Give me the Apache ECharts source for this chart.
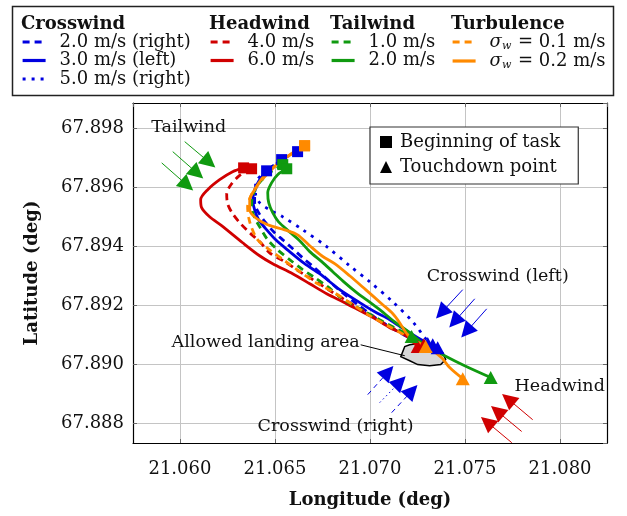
<!DOCTYPE html>
<html><head><meta charset="utf-8">
<script src="https://cdn.jsdelivr.net/npm/echarts@6/dist/echarts.min.js"></script>
<style>html,body{margin:0;padding:0;background:#fff}#c{width:627px;height:516px}</style>
</head><body><div id="c"></div>
<script>
// ---------- data (longitude / latitude, degrees) ----------
const cw2Lon = [21.06535,21.06472,21.06419,21.06393,21.06393,21.06414,21.06451,21.06493,21.06541,21.06588,21.06646,21.06709,21.06772,21.06841,21.06930,21.07035,21.07130,21.07209,21.07356];
const cw2Lat = [67.89693,67.89659,67.89618,67.89581,67.89547,67.89513,67.89479,67.89448,67.89421,67.89394,67.89360,67.89326,67.89289,67.89249,67.89204,67.89154,67.89116,67.89089,67.89055];
const cw3Lon = [21.06456,21.06419,21.06393,21.06383,21.06393,21.06414,21.06451,21.06504,21.06577,21.06656,21.06735,21.06841,21.06946,21.07025,21.07104,21.07183,21.07251,21.07304];
const cw3Lat = [67.89655,67.89625,67.89591,67.89557,67.89523,67.89489,67.89459,67.89421,67.89381,67.89340,67.89306,67.89252,67.89208,67.89177,67.89150,67.89116,67.89089,67.89069];
const cw5Lon = [21.06619,21.06551,21.06483,21.06430,21.06398,21.06398,21.06419,21.06472,21.06541,21.06646,21.06772,21.06893,21.06998,21.07119,21.07225,21.07298,21.07330];
const cw5Lat = [67.89720,67.89699,67.89669,67.89642,67.89611,67.89577,67.89547,67.89523,67.89499,67.89455,67.89398,67.89333,67.89279,67.89211,67.89143,67.89082,67.89065];
const hw4Lon = [21.06377,21.06319,21.06272,21.06246,21.06251,21.06277,21.06319,21.06367,21.06419,21.06472,21.06551,21.06630,21.06709,21.06788,21.06867,21.06946,21.07025,21.07104,21.07183,21.07283];
const hw4Lat = [67.89662,67.89642,67.89611,67.89577,67.89543,67.89510,67.89476,67.89445,67.89415,67.89377,67.89347,67.89313,67.89282,67.89249,67.89218,67.89187,67.89157,67.89126,67.89103,67.89065];
const hw6Lon = [21.06335,21.06277,21.06209,21.06146,21.06109,21.06114,21.06156,21.06219,21.06330,21.06419,21.06488,21.06593,21.06683,21.06772,21.06867,21.06946,21.07025,21.07104,21.07183,21.07251];
const hw6Lat = [67.89665,67.89652,67.89625,67.89591,67.89557,67.89530,67.89499,67.89469,67.89411,67.89367,67.89340,67.89306,67.89272,67.89238,67.89208,67.89181,67.89154,67.89123,67.89099,67.89059];
const tw1Lon = [21.06541,21.06472,21.06414,21.06383,21.06377,21.06393,21.06425,21.06462,21.06514,21.06577,21.06646,21.06709,21.06777,21.06841,21.06909,21.06983,21.07051,21.07130,21.07219];
const tw1Lat = [67.89676,67.89648,67.89611,67.89571,67.89533,67.89496,67.89459,67.89421,67.89387,67.89354,67.89320,67.89293,67.89262,67.89228,67.89201,67.89174,67.89150,67.89123,67.89093];
const tw2Lon = [21.06562,21.06514,21.06483,21.06462,21.06467,21.06488,21.06519,21.06577,21.06630,21.06683,21.06746,21.06804,21.06867,21.06930,21.06988,21.07051,21.07130,21.07209,21.07288,21.07393,21.07498,21.07635];
const tw2Lat = [67.89662,67.89642,67.89615,67.89581,67.89547,67.89513,67.89482,67.89448,67.89418,67.89381,67.89347,67.89313,67.89276,67.89242,67.89215,67.89184,67.89143,67.89106,67.89065,67.89028,67.88994,67.88954];
const tb1Lon = [21.06656,21.06588,21.06525,21.06472,21.06419,21.06377,21.06356,21.06362,21.06377,21.06409,21.06472,21.06551,21.06646,21.06725,21.06804,21.06893,21.06998,21.07104,21.07209,21.07293];
const tb1Lat = [67.89740,67.89713,67.89686,67.89652,67.89615,67.89574,67.89533,67.89496,67.89462,67.89421,67.89387,67.89350,67.89306,67.89272,67.89245,67.89208,67.89164,67.89126,67.89089,67.89059];
const tb2Lon = [21.06656,21.06609,21.06551,21.06483,21.06430,21.06393,21.06367,21.06367,21.06398,21.06462,21.06551,21.06619,21.06683,21.06746,21.06814,21.06893,21.06977,21.07067,21.07119,21.07156,21.07198,21.07251,21.07314,21.07377,21.07419,21.07488];
const tb2Lat = [67.89740,67.89723,67.89696,67.89662,67.89628,67.89591,67.89557,67.89523,67.89496,67.89472,67.89455,67.89438,67.89401,67.89367,67.89340,67.89299,67.89252,67.89201,67.89171,67.89140,67.89099,67.89072,67.89052,67.89021,67.88988,67.88950];
// allowed landing area polygon
const landLon = [21.07183,21.07162,21.07209,21.07251,21.07314,21.07372,21.07398,21.07383,21.07351,21.07277,21.07209];
const landLat = [67.89059,67.89025,67.89011,67.88998,67.88994,67.88998,67.89015,67.89038,67.89059,67.89072,67.89065];
// wind arrows: [fromLon, fromLat, toLon, toLat]
const tailArrows = [[21.06025,67.89754,21.06154,67.89684],[21.05962,67.89720,21.06091,67.89647],[21.05904,67.89682,21.06038,67.89606]];
const crossLeftArrows = [[21.07488,67.89252,21.07376,67.89174],[21.07551,67.89221,21.07445,67.89144],[21.07614,67.89187,21.07508,67.89110]];
const crossRightArrows = [[21.06988,67.88896,21.07095,67.88973],[21.07051,67.88869,21.07158,67.88939],[21.07114,67.88835,21.07221,67.88909]];
const headArrows = [[21.07856,67.88811,21.07727,67.88881],[21.07798,67.88771,21.07669,67.88840],[21.07746,67.88733,21.07616,67.88803]];
const leader = [21.06951,67.89065,21.07183,67.89028];
// annotation labels
const noteText = ['Tailwind','Crosswind (left)','Crosswind (right)','Headwind','Allowed landing area'];
const noteLon = [21.06046,21.07672,21.06819,21.07998,21.06451];
const noteLat = [67.89801,67.89296,67.88787,67.88923,67.89072];
// axes
const xMin = 21.05753, xMax = 21.08247, yMin = 67.88732, yMax = 67.89885;

const FONT = 'DejaVu Serif';
const BLUE = '#0000e0', RED = '#d00000', GREEN = '#109a10', ORANGE = '#ff8a00';
const DASH = [7, 5], DOT = [3, 6];

const lines = [
  {name:'2.0 m/s (right)', lon:cw2Lon, lat:cw2Lat, color:BLUE, type:DASH},
  {name:'3.0 m/s (left)',  lon:cw3Lon, lat:cw3Lat, color:BLUE, type:'solid'},
  {name:'5.0 m/s (right)', lon:cw5Lon, lat:cw5Lat, color:BLUE, type:DOT},
  {name:'4.0 m/s', lon:hw4Lon, lat:hw4Lat, color:RED, type:DASH},
  {name:'6.0 m/s', lon:hw6Lon, lat:hw6Lat, color:RED, type:'solid'},
  {name:'1.0 m/s', lon:tw1Lon, lat:tw1Lat, color:GREEN, type:DASH},
  {name:'2.0 m/s', lon:tw2Lon, lat:tw2Lat, color:GREEN, type:'solid'},
  {name:'σw = 0.1 m/s', lon:tb1Lon, lat:tb1Lat, color:ORANGE, type:DASH},
  {name:'σw = 0.2 m/s', lon:tb2Lon, lat:tb2Lat, color:ORANGE, type:'solid'}
];

const series = [];
series.push({
  name:'landing', type:'custom', z:1,
  data: landLon.map((x,i)=>[x, landLat[i]]),
  renderItem: function(params, api){
    if (params.dataIndex !== 0) return null;
    const pts = landLon.map((x,i)=>api.coord([x, landLat[i]]));
    return {type:'polygon', shape:{points:pts}, style:{fill:'#d8d8d8', stroke:'#000', lineWidth:1.5}};
  }
});
lines.forEach((l, k) => {
  series.push({
    name:l.name, type:'line', symbol:'none', smooth:0.3, z:2+k*0.01,
    data:l.lon.map((x,i)=>[x, l.lat[i]]),
    lineStyle:{color:l.color, width:2.8, type:l.type, cap:'butt', opacity:1},
    itemStyle:{color:l.color}
  });
});
series.push({
  name:'starts', type:'scatter', symbol:'rect', symbolSize:11, z:4,
  itemStyle:{opacity:1},
  data: lines.map(l=>({value:[l.lon[0], l.lat[0]], itemStyle:{color:l.color, opacity:1}}))
});
series.push({
  name:'ends', type:'scatter', symbol:'triangle', symbolSize:[14,13], z:4,
  itemStyle:{opacity:1},
  data: lines.map(l=>({value:[l.lon[l.lon.length-1], l.lat[l.lat.length-1]], itemStyle:{color:l.color, opacity:1}}))
});
function arrowData(arr, color, types){
  return arr.map((a,i)=>({coords:[[a[0],a[1]],[a[2],a[3]]], lineStyle:{color:color, width:1, opacity:1, type:types?types[i]:'solid'}}));
}
series.push({
  name:'arrows', type:'lines', coordinateSystem:'cartesian2d', z:3, silent:true,
  symbol:['none','triangle'], symbolSize:16,
  lineStyle:{opacity:1},
  data:[].concat(
    arrowData(tailArrows, GREEN),
    arrowData(crossLeftArrows, BLUE),
    arrowData(crossRightArrows, BLUE, [[5,4],[1.5,3],[5,4]]),
    arrowData(headArrows, RED))
});
series.push({
  name:'leader', type:'lines', coordinateSystem:'cartesian2d', z:3, silent:true,
  symbol:'none', lineStyle:{opacity:1},
  data:[{coords:[[leader[0],leader[1]],[leader[2],leader[3]]], lineStyle:{color:'#000', width:1, opacity:1}}]
});
series.push({
  name:'notes', type:'scatter', symbolSize:1, z:5, silent:true,
  itemStyle:{color:'rgba(0,0,0,0)', opacity:1},
  label:{show:true, position:'inside', formatter:'{b}', fontFamily:FONT, fontSize:17.5, color:'#111', opacity:1},
  data: noteText.map((t,i)=>({name:t, value:[noteLon[i], noteLat[i]]}))
});
series.push({name:'Beginning of task', type:'scatter', symbol:'rect', data:[], itemStyle:{color:'#000', opacity:1}});
series.push({name:'Touchdown point', type:'scatter', symbol:'triangle', data:[], itemStyle:{color:'#000', opacity:1}});

const legTxt = {fontFamily:FONT, fontSize:18, color:'#111', lineHeight:17, padding:[0,0,0,9],
  rich:{s:{fontFamily:FONT, fontSize:18, fontStyle:'italic', color:'#111'}, w:{fontFamily:FONT, fontSize:11, fontStyle:'italic', color:'#111', padding:[8,1,0,0]}}};
function legendCol(names, left){
  return {data:names, orient:'vertical', left:left, top:33, padding:0, itemGap:0.5,
    itemWidth:23, itemHeight:10, selectedMode:false, textStyle:legTxt,
    itemStyle:{color:'rgba(0,0,0,0)', borderWidth:0, opacity:0},
    lineStyle:{width:3.2},
    formatter: n => n.indexOf('σw')===0 ? '{s|σ}{w|w}' + n.slice(2) : n};
}
const gridC = '#c4c4c4';
function xAx(pos, show){
  return {type:'value', position:pos, min:xMin, max:xMax, splitNumber:5,
    axisLine:{show:true, onZero:false, lineStyle:{color:'#000', width:1.2}},
    axisTick:{show:true, inside:true, length:4, lineStyle:{color:'#666'}},
    splitLine:{show:show, lineStyle:{color:gridC, width:1}},
    axisLabel:{show:show, showMinLabel:false, showMaxLabel:false, margin:17, fontFamily:FONT, fontSize:18, color:'#111', formatter:v=>v.toFixed(3)},
    name: show ? 'Longitude (deg)' : '', nameLocation:'middle', nameGap:48,
    nameTextStyle:{fontFamily:FONT, fontSize:18, fontWeight:'bold', color:'#111'}};
}
function yAx(pos, show){
  return {type:'value', position:pos, min:yMin, max:yMax, splitNumber:5,
    axisLine:{show:true, onZero:false, lineStyle:{color:'#000', width:1.2}},
    axisTick:{show:true, inside:true, length:4, lineStyle:{color:'#666'}},
    splitLine:{show:show, lineStyle:{color:gridC, width:1}},
    axisLabel:{show:show, showMinLabel:false, showMaxLabel:false, margin:9, fontFamily:FONT, fontSize:18, color:'#111', formatter:v=>v.toFixed(3)},
    name: show ? 'Latitude (deg)' : '', nameLocation:'middle', nameGap:92,
    nameTextStyle:{fontFamily:FONT, fontSize:18, fontWeight:'bold', color:'#111'}};
}
const chart = echarts.init(document.getElementById('c'), null, {renderer:'canvas'});
chart.setOption({
  animation:false, backgroundColor:'#fff',
  grid:{left:133, right:20, top:103, bottom:73, containLabel:false},
  xAxis:[xAx('bottom', true), xAx('top', false)],
  yAxis:[yAx('left', true), yAx('right', false)],
  legend:[
    legendCol(['2.0 m/s (right)','3.0 m/s (left)','5.0 m/s (right)'], 21),
    legendCol(['4.0 m/s','6.0 m/s'], 209),
    legendCol(['1.0 m/s','2.0 m/s'], 330),
    legendCol(['σw = 0.1 m/s','σw = 0.2 m/s'], 451),
    {data:['Beginning of task','Touchdown point'], orient:'vertical', left:370, top:127,
     padding:[5,18,7,10], itemWidth:12, itemHeight:12, itemGap:5, selectedMode:false,
     borderColor:'#333', borderWidth:1.2, backgroundColor:'#fff',
     textStyle:{fontFamily:FONT, fontSize:18, color:'#111', lineHeight:20, padding:[0,0,0,3]}}
  ],
  graphic:[
    {type:'rect', shape:{x:12.5, y:6.5, width:601, height:89}, style:{fill:'none', stroke:'#222', lineWidth:1.5}, z:0},
    {type:'text', left:21, top:15, style:{text:'Crosswind', font:'bold 18px "DejaVu Serif"', fill:'#111'}},
    {type:'text', left:209, top:15, style:{text:'Headwind', font:'bold 18px "DejaVu Serif"', fill:'#111'}},
    {type:'text', left:330, top:15, style:{text:'Tailwind', font:'bold 18px "DejaVu Serif"', fill:'#111'}},
    {type:'text', left:451, top:15, style:{text:'Turbulence', font:'bold 18px "DejaVu Serif"', fill:'#111'}}
  ],
  series: series
});
</script>
</body></html>
